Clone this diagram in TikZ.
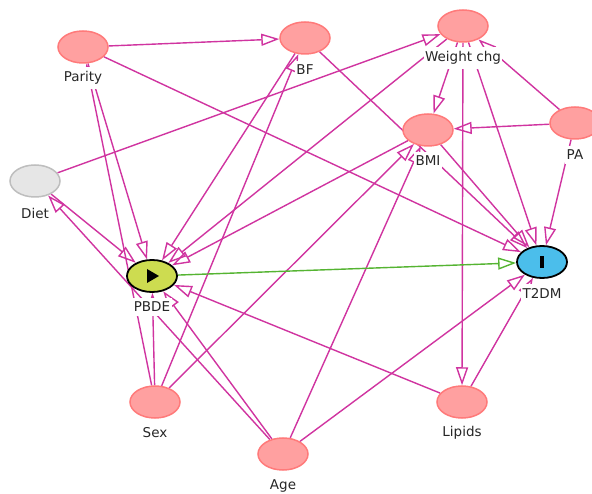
\documentclass[tikz,border=0pt]{standalone}
\usepackage{fontspec}
\newfontfamily\labfont{DejaVu Sans}
\usetikzlibrary{shapes.geometric,arrows.meta}
\pgfdeclarelayer{bg}
\pgfdeclarelayer{paper}
\pgfsetlayers{paper,bg,main}
\definecolor{edgec}{RGB}{208,52,160}
\definecolor{causc}{RGB}{85,180,50}
\definecolor{nfill}{RGB}{255,160,160}
\definecolor{nline}{RGB}{255,122,122}
\definecolor{gfill}{RGB}{230,230,230}
\definecolor{gline}{RGB}{190,190,190}
\definecolor{efill}{RGB}{205,220,80}
\definecolor{ofill}{RGB}{75,190,235}
\begin{document}
\begin{tikzpicture}[x=1pt,y=-1pt,
  var/.style={ellipse, minimum width=50pt, minimum height=32pt, inner sep=0pt, fill=nfill, draw=nline, line width=1.5pt},
  latent/.style={var, fill=gfill, draw=gline},
  expo/.style={var, fill=efill, draw=black, line width=1.8pt},
  outc/.style={var, fill=ofill, draw=black, line width=1.8pt},
  lab/.style={fill=white, inner xsep=1.5pt, inner ysep=4pt, font=\labfont\fontsize{13.5}{15}\selectfont, text=black!85},
  arr/.style={draw=edgec, line width=1.4pt, -{Triangle[open, length=18pt, width=12pt, line width=1.4pt]}},
  carr/.style={arr, draw=causc}]
\useasboundingbox (0,0) rectangle (592,494);
\begin{pgfonlayer}{paper}
\fill[white] (0,0) rectangle (592,494);
\end{pgfonlayer}
% nodes
\node[var] (Parity) at (83,47) {};
\node[var] (BF) at (305,38) {};
\node[var] (Wchg) at (463,26) {};
\node[var] (BMI) at (428,130) {};
\node[var] (PA) at (575,123) {};
\node[latent] (Diet) at (35,181) {};
\node[expo] (PBDE) at (152,276) {};
\node[outc] (T2DM) at (542,262) {};
\node[var] (Sex) at (155,402) {};
\node[var] (Age) at (283,454) {};
\node[var] (Lipids) at (462,402) {};
\fill (PBDE.center) ++(-5,-7) -- ++(12,7) -- ++(-12,7) -- cycle;
\fill (T2DM.center) ++(-2,-6) rectangle ++(4,12);
% edges
\begin{pgfonlayer}{bg}
\draw[arr] (Parity) -- (BF);
\draw[arr] (Parity) -- (T2DM);
\draw[arr] (Parity) -- (PBDE);
\draw[arr] (Sex) -- (Parity);
\draw[arr] (Sex) -- (PBDE);
\draw[arr] (Sex) -- (BF);
\draw[arr] (Sex) -- (BMI);
\draw[arr] (Age) -- (Diet);
\draw[arr] (Age) -- (PBDE);
\draw[arr] (Age) -- (BMI);
\draw[arr] (Age) -- (T2DM);
\draw[arr] (Diet) -- (PBDE);
\draw[arr] (Diet) -- (Wchg);
\draw[arr] (BF) -- (PBDE);
\draw[arr] (BF) -- (T2DM);
\draw[arr] (Wchg) -- (PBDE);
\draw[arr] (Wchg) -- (BMI);
\draw[arr] (Wchg) -- (Lipids);
\draw[arr] (Wchg) -- (T2DM);
\draw[arr] (BMI) -- (PBDE);
\draw[arr] (BMI) -- (T2DM);
\draw[arr] (PA) -- (BMI);
\draw[arr] (PA) -- (Wchg);
\draw[arr] (PA) -- (T2DM);
\draw[arr] (Lipids) -- (PBDE);
\draw[arr] (Lipids) -- (T2DM);
\draw[carr] (PBDE) -- (T2DM);
\end{pgfonlayer}
% labels
\node[lab] (lParity) at (83,78) {Parity};
\node[lab] (lBF) at (305,70) {BF};
\node[lab] (lWchg) at (463,58) {Weight chg};
\node[lab] (lBMI) at (428,161) {BMI};
\node[lab] (lPA) at (575,155) {PA};
\node[lab] (lDiet) at (35,213) {Diet};
\node[lab] (lPBDE) at (152,307) {PBDE};
\node[lab] (lT2DM) at (542,293) {T2DM};
\node[lab] (lSex) at (155,433) {Sex};
\node[lab] (lAge) at (283,486) {Age};
\node[lab] (lLipids) at (462,433) {Lipids};
\end{tikzpicture}
\end{document}
